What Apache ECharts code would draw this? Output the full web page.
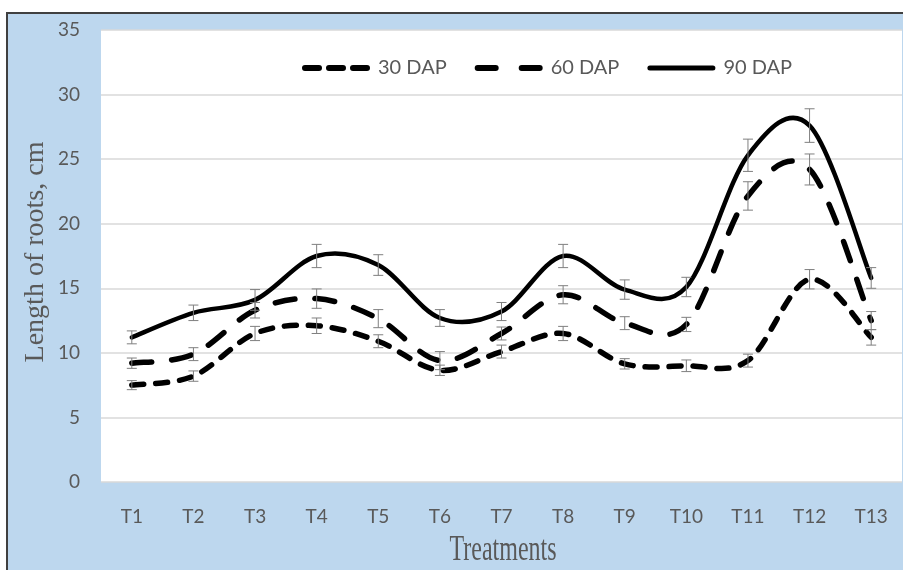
<!DOCTYPE html>
<html>
<head>
<meta charset="utf-8">
<script src="https://cdn.jsdelivr.net/npm/echarts@6/dist/echarts.min.js"></script>
<style>
  html, body { margin: 0; padding: 0; background: #ffffff; }
  #chart { width: 903px; height: 570px; }
</style>
</head>
<body>
<div id="chart"></div>
<script>
// Treatments on the category axis
const categories = ['T1', 'T2', 'T3', 'T4', 'T5', 'T6', 'T7', 'T8', 'T9', 'T10', 'T11', 'T12', 'T13'];

// Mean root length (cm) and standard error at each sampling date
const dap30 = [7.5, 8.2, 11.5, 12.1, 10.9, 8.65, 10.1, 11.5, 9.15, 9.0, 9.4, 15.7, 11.2];
const err30 = [0.35, 0.4, 0.55, 0.6, 0.5, 0.4, 0.5, 0.55, 0.4, 0.45, 0.5, 0.75, 0.6];

const dap60 = [9.2, 9.9, 13.3, 14.2, 12.65, 9.4, 11.5, 14.5, 12.3, 12.2, 22.15, 24.2, 12.5];
const err60 = [0.4, 0.5, 0.6, 0.75, 0.7, 0.7, 0.5, 0.7, 0.5, 0.55, 1.1, 1.2, 0.7];

const dap90 = [11.2, 13.1, 14.1, 17.5, 16.8, 12.7, 13.2, 17.5, 14.9, 15.1, 25.3, 27.6, 15.8];
const err90 = [0.5, 0.6, 0.8, 0.9, 0.8, 0.65, 0.7, 0.9, 0.75, 0.75, 1.25, 1.3, 0.8];

const seriesNames = ['30 DAP', '60 DAP', '90 DAP'];

// y axis range and tick step
const yMin = 0, yMax = 35, yStep = 5;

const chart = echarts.init(document.getElementById('chart'), null, { renderer: 'canvas' });

// [index, low, high] triples for the error whiskers
function whiskers(means, errs) {
  return means.map((m, i) => [i, m - errs[i], m + errs[i]]);
}

function renderWhisker(params, api) {
  const i = api.value(0);
  const lo = api.coord([i, api.value(1)]);
  const hi = api.coord([i, api.value(2)]);
  const cap = 5;
  const style = { stroke: '#7f7f7f', lineWidth: 1 };
  return {
    type: 'group',
    children: [
      { type: 'line', shape: { x1: lo[0], y1: lo[1], x2: hi[0], y2: hi[1] }, style },
      { type: 'line', shape: { x1: lo[0] - cap, y1: lo[1], x2: lo[0] + cap, y2: lo[1] }, style },
      { type: 'line', shape: { x1: hi[0] - cap, y1: hi[1], x2: hi[0] + cap, y2: hi[1] }, style }
    ]
  };
}

// Smoothed curve through every point (cardinal spline, tension 1/6),
// built once from the axis-mapped coordinates so the dash pattern runs continuously.
function curveRenderer(values, stroke) {
  return function (params, api) {
    if (params.dataIndex !== 0) return null;
    const pts = values.map((v, i) => api.coord([i, v]));
    const n = pts.length;
    let d = 'M' + pts[0][0] + ',' + pts[0][1];
    for (let i = 0; i < n - 1; i++) {
      const p0 = pts[Math.max(i - 1, 0)];
      const p1 = pts[i];
      const p2 = pts[i + 1];
      const p3 = pts[Math.min(i + 2, n - 1)];
      const c1x = p1[0] + (p2[0] - p0[0]) / 6, c1y = p1[1] + (p2[1] - p0[1]) / 6;
      const c2x = p2[0] - (p3[0] - p1[0]) / 6, c2y = p2[1] - (p3[1] - p1[1]) / 6;
      d += ' C' + c1x + ',' + c1y + ' ' + c2x + ',' + c2y + ' ' + p2[0] + ',' + p2[1];
    }
    return {
      type: 'path',
      shape: { pathData: d },
      style: Object.assign({ fill: null, stroke: '#000', lineCap: 'round', lineJoin: 'round' }, stroke)
    };
  };
}

const strokes = [
  { lineWidth: 5.5, lineDash: [12, 12] },
  { lineWidth: 5.5, lineDash: [20, 20] },
  { lineWidth: 4.5, lineDash: null }
];

// Legend keys: short dashes, long dashes, solid bar
const legendIcons = [
  'path://M3,0H17A3,3 0 0 1 17,6H3A3,3 0 0 1 3,0Z M27,0H41A3,3 0 0 1 41,6H27A3,3 0 0 1 27,0Z M51,0H65A3,3 0 0 1 65,6H51A3,3 0 0 1 51,0Z',
  'path://M3,0H21A3,3 0 0 1 21,6H3A3,3 0 0 1 3,0Z M47,0H65A3,3 0 0 1 65,6H47A3,3 0 0 1 47,0Z',
  'path://M2.5,0.5H65.5A2.5,2.5 0 0 1 65.5,5.5H2.5A2.5,2.5 0 0 1 2.5,0.5Z'
];

const means = [dap30, dap60, dap90];
const errs = [err30, err60, err90];

const series = [];
means.forEach((m, k) => {
  series.push({
    name: seriesNames[k],
    type: 'custom',
    data: m.map((v, i) => [i, v]),
    encode: { x: 0, y: 1 },
    renderItem: curveRenderer(m, strokes[k]),
    itemStyle: { color: '#000' },
    z: 2,
    silent: true
  });
});
means.forEach((m, k) => {
  series.push({
    type: 'custom',
    data: whiskers(m, errs[k]),
    renderItem: renderWhisker,
    z: 3,
    silent: true
  });
});

const tickFont = { color: '#595959', fontFamily: 'Lato', fontSize: 19 };

chart.setOption({
  backgroundColor: '#ffffff',
  animation: false,
  graphic: [
    {
      type: 'rect',
      z: -10,
      silent: true,
      shape: { x: 7, y: 13, width: 910, height: 570 },
      style: { fill: '#bdd7ee', stroke: '#404040', lineWidth: 2 }
    },
    {
      type: 'text',
      x: 36,
      y: 252,
      rotation: Math.PI / 2,
      silent: true,
      style: {
        text: 'Length of roots, cm',
        font: '28px "Liberation Serif"',
        fill: '#595959',
        align: 'center',
        verticalAlign: 'middle'
      }
    },
    {
      type: 'text',
      x: 503,
      y: 551,
      scaleY: 1.45,
      silent: true,
      style: {
        text: 'Treatments',
        font: '24px "Liberation Serif"',
        fill: '#595959',
        align: 'center',
        verticalAlign: 'middle'
      }
    }
  ],
  grid: {
    left: 101,
    right: 1,
    top: 30,
    bottom: 88,
    show: true,
    backgroundColor: '#ffffff',
    borderWidth: 0
  },
  legend: {
    data: seriesNames.map((name, k) => ({ name, icon: legendIcons[k] })),
    left: 302,
    top: 58,
    padding: 0,
    itemWidth: 68,
    itemHeight: 6,
    itemGap: 28,
    selectedMode: false,
    textStyle: { color: '#595959', fontFamily: 'Lato', fontSize: 20, padding: [0, 0, 0, 3] }
  },
  xAxis: {
    type: 'category',
    data: categories,
    boundaryGap: true,
    axisLine: { show: false },
    axisTick: { show: false },
    axisLabel: Object.assign({ margin: 25 }, tickFont)
  },
  yAxis: {
    type: 'value',
    min: yMin,
    max: yMax,
    interval: yStep,
    axisLine: { show: false },
    axisTick: { show: false },
    axisLabel: Object.assign({ margin: 21 }, tickFont),
    splitLine: { lineStyle: { color: '#d9d9d9', width: 1.5 } }
  },
  series
});
</script>
</body>
</html>
